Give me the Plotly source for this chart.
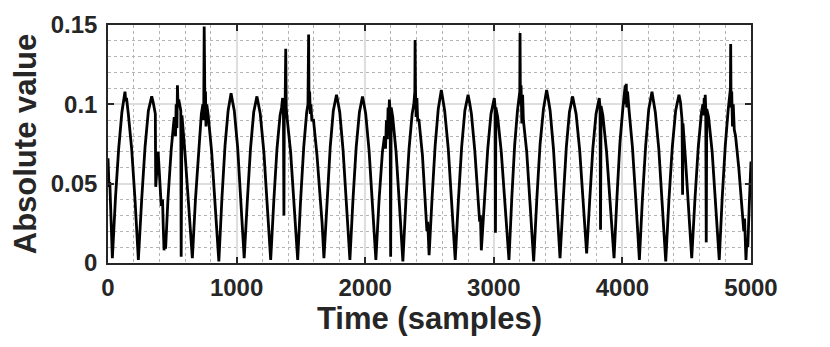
import plotly.graph_objects as go

# samples: troughs, flanks, peaks, spikes
time_samples = [
    0, 8, 14, 22, 34,
    58, 83, 108, 120, 126, 132, 138, 144, 158, 184, 210, 236,
    262, 288, 314, 328, 340, 352, 368, 371, 390, 414, 424, 430, 436, 442, 448,
    466, 492, 515, 525, 530, 536, 540, 545, 550, 566, 569, 575, 598, 626, 656,
    680, 704, 726, 738, 744, 748, 750, 754, 758, 762, 768, 778, 806, 834, 862,
    886, 910, 934, 946, 957, 968, 982, 1008, 1034, 1059,
    1084, 1108, 1133, 1146, 1158, 1170, 1184, 1212, 1240, 1265,
    1290, 1314, 1338, 1350, 1358, 1364, 1368, 1371, 1378, 1382, 1386, 1392, 1420, 1448, 1475,
    1498, 1522, 1545, 1555, 1560, 1563, 1568, 1573, 1578, 1585, 1598, 1625, 1648, 1655, 1665, 1679,
    1703, 1728, 1752, 1765, 1777, 1789, 1802, 1828, 1855, 1881,
    1905, 1930, 1955, 1967, 1979, 1991, 2004, 2030, 2057, 2083,
    2108, 2134, 2150, 2158, 2165, 2172, 2178, 2184, 2188, 2194, 2198, 2202, 2214, 2240, 2266, 2293,
    2317, 2341, 2365, 2378, 2386, 2388, 2391, 2396, 2402, 2408, 2418, 2445, 2470, 2480, 2486, 2497,
    2520, 2544, 2568, 2580, 2592, 2604, 2618, 2646, 2673, 2700,
    2725, 2750, 2775, 2788, 2800, 2812, 2826, 2852, 2878, 2890, 2896, 2903,
    2928, 2953, 2978, 2992, 3004, 3010, 3013, 3016, 3030, 3058, 3088, 3118,
    3140, 3162, 3184, 3195, 3202, 3204, 3207, 3212, 3218, 3224, 3230, 3256, 3283, 3310,
    3335, 3360, 3386, 3398, 3411, 3424, 3438, 3464, 3490, 3515,
    3540, 3564, 3588, 3601, 3613, 3625, 3640, 3668, 3695, 3722,
    3746, 3770, 3795, 3808, 3820, 3826, 3830, 3834, 3848, 3877, 3906, 3935,
    3958, 3981, 4004, 4016, 4022, 4026, 4030, 4034, 4040, 4052, 4078, 4105, 4132,
    4156, 4181, 4205, 4218, 4230, 4242, 4256, 4283, 4310, 4337,
    4362, 4388, 4414, 4427, 4440, 4452, 4464, 4468, 4471, 4490, 4515, 4539,
    4564, 4590, 4615, 4626, 4632, 4636, 4640, 4644, 4648, 4652, 4656, 4670, 4698, 4726, 4753,
    4776, 4800, 4822, 4834, 4840, 4842, 4845, 4850, 4856, 4862, 4870, 4880, 4905, 4932, 4944, 4950,
    4961, 4968, 4975, 4988, 5000,
]
abs_value = [
    0.066, 0.048, 0.051, 0.024, 0.003,
    0.041, 0.072, 0.095, 0.101, 0.106, 0.108, 0.102, 0.104, 0.094, 0.072, 0.040, 0.002,
    0.040, 0.073, 0.096, 0.102, 0.105, 0.101, 0.094, 0.048, 0.070, 0.036, 0.040, 0.022, 0.008, 0.018, 0.009,
    0.040, 0.072, 0.092, 0.080, 0.100, 0.085, 0.112, 0.098, 0.103, 0.096, 0.004, 0.093, 0.070, 0.038, 0.003,
    0.040, 0.072, 0.094, 0.100, 0.090, 0.149, 0.104, 0.095, 0.108, 0.086, 0.100, 0.094, 0.070, 0.036, 0.001,
    0.041, 0.074, 0.096, 0.103, 0.107, 0.102, 0.096, 0.073, 0.040, 0.003,
    0.040, 0.072, 0.095, 0.101, 0.105, 0.100, 0.094, 0.070, 0.037, 0.002,
    0.040, 0.072, 0.093, 0.098, 0.104, 0.097, 0.030, 0.100, 0.104, 0.135, 0.098, 0.092, 0.070, 0.037, 0.002,
    0.040, 0.073, 0.095, 0.100, 0.144, 0.104, 0.108, 0.094, 0.100, 0.090, 0.090, 0.068, 0.046, 0.040, 0.025, 0.003,
    0.040, 0.073, 0.096, 0.102, 0.106, 0.101, 0.095, 0.071, 0.037, 0.002,
    0.040, 0.073, 0.095, 0.101, 0.105, 0.100, 0.094, 0.071, 0.037, 0.002,
    0.040, 0.070, 0.080, 0.072, 0.090, 0.078, 0.098, 0.088, 0.103, 0.095, 0.004, 0.098, 0.092, 0.070, 0.037, 0.001,
    0.040, 0.072, 0.094, 0.100, 0.108, 0.1405, 0.110, 0.092, 0.104, 0.090, 0.090, 0.068, 0.036, 0.020, 0.026, 0.005,
    0.041, 0.074, 0.097, 0.104, 0.109, 0.103, 0.096, 0.072, 0.038, 0.002,
    0.040, 0.073, 0.096, 0.102, 0.106, 0.101, 0.094, 0.071, 0.040, 0.026, 0.030, 0.008,
    0.040, 0.072, 0.094, 0.100, 0.104, 0.098, 0.019, 0.098, 0.092, 0.070, 0.036, 0.002,
    0.041, 0.074, 0.096, 0.104, 0.108, 0.145, 0.100, 0.112, 0.088, 0.106, 0.090, 0.070, 0.036, 0.001,
    0.041, 0.075, 0.097, 0.104, 0.109, 0.103, 0.096, 0.072, 0.038, 0.003,
    0.040, 0.073, 0.095, 0.101, 0.105, 0.100, 0.094, 0.071, 0.038, 0.006,
    0.040, 0.072, 0.094, 0.100, 0.104, 0.098, 0.021, 0.099, 0.093, 0.070, 0.036, 0.003,
    0.042, 0.076, 0.098, 0.106, 0.112, 0.100, 0.113, 0.098, 0.108, 0.096, 0.073, 0.039, 0.002,
    0.041, 0.074, 0.097, 0.104, 0.108, 0.102, 0.095, 0.072, 0.038, 0.001,
    0.040, 0.073, 0.096, 0.102, 0.106, 0.101, 0.090, 0.043, 0.088, 0.066, 0.035, 0.003,
    0.040, 0.073, 0.095, 0.100, 0.093, 0.104, 0.096, 0.106, 0.098, 0.013, 0.097, 0.092, 0.070, 0.036, 0.002,
    0.041, 0.074, 0.096, 0.104, 0.110, 0.138, 0.098, 0.108, 0.086, 0.100, 0.084, 0.080, 0.060, 0.030, 0.020, 0.028,
    0.002, 0.015, 0.010, 0.040, 0.064,
]

x_ticks = [0, 1000, 2000, 3000, 4000, 5000]
y_ticks = [0, 0.05, 0.1, 0.15]
y_tick_labels = ["0", "0.05", "0.1", "0.15"]

TEXT = "#262626"
FONT = "Liberation Sans, Arial, sans-serif"

fig = go.Figure()
fig.add_trace(
    go.Scatter(
        x=time_samples,
        y=abs_value,
        mode="lines",
        line=dict(color="black", width=2.8),
        showlegend=False,
    )
)

axis_common = dict(
    automargin=False,
    showline=True,
    linecolor=TEXT,
    linewidth=1.5,
    mirror="ticks",
    ticks="inside",
    ticklen=6,
    tickwidth=1.5,
    tickcolor=TEXT,
    showgrid=True,
    gridcolor="#dedede",
    gridwidth=1.5,
    zeroline=False,
    tickfont=dict(family=FONT, size=24, color=TEXT, weight="bold"),
)

fig.update_xaxes(
    range=[0, 5000],
    tickvals=x_ticks,
    ticktext=[str(v) for v in x_ticks],
    ticklabelstandoff=2,
    title=dict(
        text="Time (samples)",
        font=dict(family=FONT, size=31, color=TEXT, weight="bold"),
        standoff=4,
    ),
    minor=dict(dtick=200, showgrid=True, griddash="dot", gridcolor="#b5b5b5", gridwidth=1),
    **axis_common,
)
fig.update_yaxes(
    range=[0, 0.15],
    tickvals=y_ticks,
    ticktext=y_tick_labels,
    ticklabelstandoff=4,
    title=dict(
        text="Absolute value",
        font=dict(family=FONT, size=31, color=TEXT, weight="bold"),
        standoff=6,
    ),
    minor=dict(dtick=0.01, showgrid=True, griddash="dot", gridcolor="#b5b5b5", gridwidth=1),
    **axis_common,
)

# page body adds an 8px margin, so the figure is shrunk by that much
fig.update_layout(
    width=822,
    height=339,
    margin=dict(l=100, r=79, t=17, b=84),
    plot_bgcolor="white",
    paper_bgcolor="white",
)

fig.write_html("out.html")
